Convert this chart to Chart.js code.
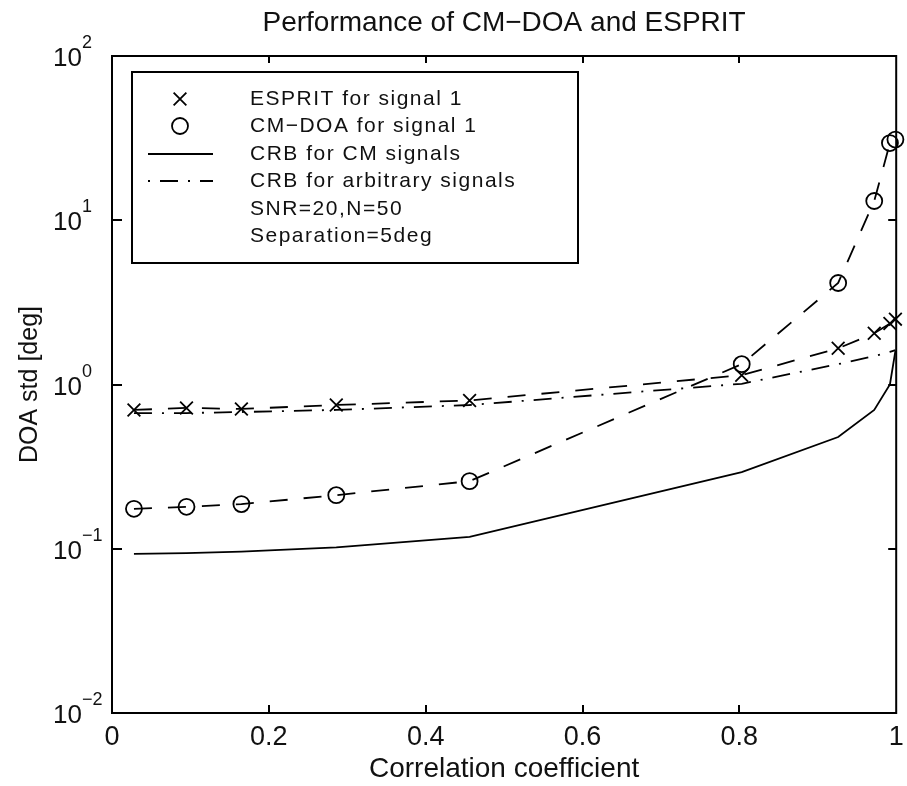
<!DOCTYPE html>
<html>
<head>
<meta charset="utf-8">
<script src="https://cdn.jsdelivr.net/npm/chart.js@4.4.1/dist/chart.umd.min.js"></script>
<style>
  html, body { margin: 0; padding: 0; background: #fff; }
</style>
</head>
<body>
<canvas id="chart" width="907" height="786"></canvas>
<script>
// correlation coefficient values where every curve was evaluated
const corr   = [0.028, 0.095, 0.165, 0.286, 0.456, 0.803, 0.926, 0.972, 0.992, 0.999];
const esprit = [0.70, 0.72, 0.71, 0.75, 0.80, 1.14, 1.66, 2.05, 2.35, 2.5];
const cmdoa  = [0.175, 0.18, 0.187, 0.212, 0.258, 1.33, 4.15, 13.1, 29.5, 31];
const crbCM  = [0.093, 0.094, 0.096, 0.102, 0.118, 0.293, 0.479, 0.70, 1.0, 1.6];
const crbArb = [0.67, 0.67, 0.68, 0.70, 0.75, 1.01, 1.33, 1.49, 1.58, 1.62];

const seriesLabels = ['ESPRIT for signal 1', 'CM\u2212DOA for signal 1', 'CRB for CM signals', 'CRB for arbitrary signals'];
const noteLines = ['SNR=20,N=50', 'Separation=5deg'];

const xTicks = [0, 0.2, 0.4, 0.6, 0.8, 1];
const yTicks = [0.01, 0.1, 1, 10, 100];
const yExponents = ['\u22122', '\u22121', '0', '1', '2'];

const FONT = "'Liberation Sans', Arial, Helvetica, sans-serif";
const INK = '#111';

const toXY = vals => vals.map((v, i) => ({ x: corr[i], y: v }));

// box round the axes with inward ticks, and the 10^n labels
const frame = {
  id: 'frame',
  afterDatasetsDraw(chart) {
    const { ctx, chartArea: a, scales: { x, y } } = chart;
    ctx.save();
    ctx.strokeStyle = '#000';
    ctx.lineWidth = 2;
    ctx.beginPath();
    ctx.rect(a.left, a.top, a.right - a.left, a.bottom - a.top);
    x.ticks.forEach(t => {
      const px = Math.round(x.getPixelForValue(t.value));
      if (px <= a.left + 2 || px >= a.right - 2) return;
      ctx.moveTo(px, a.bottom); ctx.lineTo(px, a.bottom - 8);
      ctx.moveTo(px, a.top); ctx.lineTo(px, a.top + 7);
    });
    y.ticks.forEach(t => {
      const py = Math.round(y.getPixelForValue(t.value));
      if (py <= a.top + 2 || py >= a.bottom - 2) return;
      ctx.moveTo(a.left, py); ctx.lineTo(a.left + 10, py);
      ctx.moveTo(a.right, py); ctx.lineTo(a.right - 8, py);
    });
    ctx.stroke();

    ctx.fillStyle = INK;
    ctx.textAlign = 'left';
    ctx.textBaseline = 'alphabetic';
    yTicks.forEach((v, i) => {
      const py = y.getPixelForValue(v);
      ctx.font = '26px ' + FONT;
      ctx.fillText('10', 53, py + 10);
      ctx.font = '18px ' + FONT;
      ctx.fillText(yExponents[i], 82, py - 8);
    });
    ctx.restore();
  }
};

// legend box drawn inside the axes like the original
const legendBox = {
  id: 'legendBox',
  afterDraw(chart) {
    const { ctx } = chart;
    const left = 132, top = 72, right = 578, bottom = 263;
    const rowY = [99, 126, 154, 181, 209, 236];
    ctx.save();
    ctx.fillStyle = '#fff';
    ctx.fillRect(left, top, right - left, bottom - top);
    ctx.strokeStyle = '#000';
    ctx.lineWidth = 2;
    ctx.strokeRect(left, top, right - left, bottom - top);

    chart.data.datasets.forEach((ds, i) => {
      const cy = rowY[i];
      ctx.strokeStyle = ds.borderColor;
      if (ds.legendMarker) {
        const r = ds.pointRadius;
        ctx.lineWidth = ds.pointBorderWidth;
        ctx.setLineDash([]);
        ctx.beginPath();
        if (ds.pointStyle === 'crossRot') {
          const d = r * Math.SQRT1_2;
          ctx.moveTo(180 - d, cy - d); ctx.lineTo(180 + d, cy + d);
          ctx.moveTo(180 - d, cy + d); ctx.lineTo(180 + d, cy - d);
        } else {
          ctx.arc(180, cy, r, 0, Math.PI * 2);
        }
        ctx.stroke();
      } else {
        ctx.lineWidth = ds.borderWidth;
        ctx.setLineDash(ds.borderDash || []);
        ctx.lineDashOffset = ds.legendDashOffset || 0;
        ctx.beginPath();
        ctx.moveTo(148, cy); ctx.lineTo(213, cy);
        ctx.stroke();
      }
    });

    ctx.fillStyle = INK;
    ctx.font = '21px ' + FONT;
    ctx.letterSpacing = '1.5px';
    ctx.textAlign = 'left';
    ctx.textBaseline = 'middle';
    seriesLabels.concat(noteLines).forEach((txt, i) => {
      ctx.fillText(txt, 250, rowY[i]);
    });
    ctx.restore();
  }
};

new Chart(document.getElementById('chart'), {
  type: 'line',
  data: {
    datasets: [
      {
        label: seriesLabels[0],
        data: toXY(esprit),
        borderColor: '#000',
        borderWidth: 1.8,
        borderDash: [18, 16],
        pointStyle: 'crossRot',
        pointRadius: 9,
        pointBorderWidth: 1.8,
        pointBackgroundColor: 'rgba(0,0,0,0)',
        legendMarker: true,
        fill: false,
        tension: 0,
        clip: false
      },
      {
        label: seriesLabels[1],
        data: toXY(cmdoa),
        borderColor: '#000',
        borderWidth: 1.8,
        borderDash: [18, 16],
        pointStyle: 'circle',
        pointRadius: 8,
        pointBorderWidth: 1.8,
        pointBackgroundColor: 'rgba(0,0,0,0)',
        legendMarker: true,
        fill: false,
        tension: 0,
        clip: false
      },
      {
        label: seriesLabels[2],
        data: toXY(crbCM),
        borderColor: '#000',
        borderWidth: 1.8,
        pointRadius: 0,
        fill: false,
        tension: 0,
        clip: false
      },
      {
        label: seriesLabels[3],
        data: toXY(crbArb),
        borderColor: '#000',
        borderWidth: 1.8,
        borderDash: [18, 10, 2, 10],
        legendDashOffset: 28,
        pointRadius: 0,
        fill: false,
        tension: 0,
        clip: false
      }
    ]
  },
  options: {
    responsive: false,
    animation: false,
    layout: { padding: { left: 0, right: 8, top: 0, bottom: 0 } },
    plugins: {
      legend: { display: false },
      tooltip: { enabled: false },
      title: {
        display: true,
        text: 'Performance of CM\u2212DOA and ESPRIT',
        fullSize: false,
        color: INK,
        font: { family: FONT, size: 28, weight: 'normal' },
        padding: { top: 6, bottom: 16.4 }
      }
    },
    scales: {
      x: {
        type: 'linear',
        min: 0,
        max: 1,
        afterBuildTicks: scale => { scale.ticks = xTicks.map(v => ({ value: v })); },
        afterFit: scale => {
          scale.height = 73;
          scale.paddingLeft = 0;
          scale.paddingRight = 0;
        },
        grid: { display: false, drawTicks: false },
        border: { display: false },
        ticks: {
          color: INK,
          padding: 8,
          maxRotation: 0,
          font: { family: FONT, size: 27 },
          callback: v => String(Number(v.toFixed(1)))
        },
        title: {
          display: true,
          text: 'Correlation coefficient',
          color: INK,
          font: { family: FONT, size: 28 },
          padding: { top: 0, bottom: 0 }
        }
      },
      y: {
        type: 'logarithmic',
        min: 0.01,
        max: 100,
        afterBuildTicks: scale => { scale.ticks = yTicks.map(v => ({ value: v })); },
        afterFit: scale => {
          scale.width = 112;
          scale.paddingTop = 0;
          scale.paddingBottom = 0;
        },
        grid: { display: false, drawTicks: false },
        border: { display: false },
        ticks: { display: false },
        title: {
          display: true,
          text: 'DOA std [deg]',
          color: INK,
          font: { family: FONT, size: 25 },
          padding: { top: 15, bottom: 0 }
        }
      }
    }
  },
  plugins: [frame, legendBox]
});
</script>
</body>
</html>
